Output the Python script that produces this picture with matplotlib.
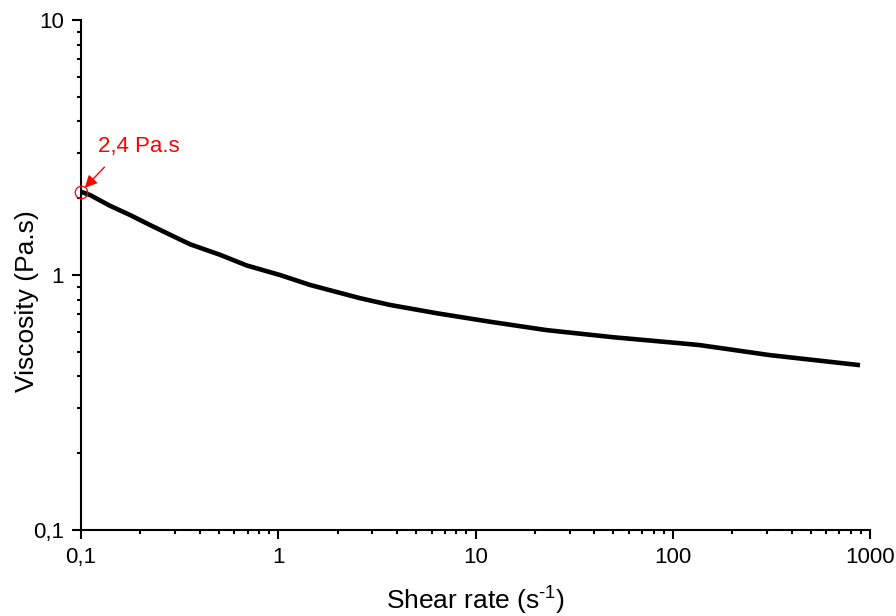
import numpy as np
import matplotlib
matplotlib.use("Agg")
import matplotlib.pyplot as plt
from matplotlib.ticker import FixedLocator, FuncFormatter, LogLocator, NullFormatter

plt.rcParams["font.family"] = ["Liberation Sans", "DejaVu Sans"]
plt.rcParams["axes.unicode_minus"] = False

# Flow curve (shear rate in 1/s, viscosity in Pa.s)
shear_rate = [0.1, 0.111, 0.140, 0.177, 0.224, 0.272, 0.357, 0.507, 0.692, 1.02,
              1.45, 2.60, 3.69, 6.36, 11.8, 22.9, 50.0, 109, 137, 311, 890]
viscosity = [2.12, 2.06, 1.87, 1.72, 1.57, 1.46, 1.32, 1.20, 1.09, 1.00,
             0.914, 0.811, 0.763, 0.708, 0.656, 0.608, 0.570, 0.540, 0.531, 0.485, 0.443]

x_ticks = [0.1, 1, 10, 100, 1000]
y_ticks = [0.1, 1, 10]
note_text = "2,4 Pa.s"


def comma_fmt(v, pos):
    s = f"{v:g}"
    return s.replace(".", ",")


fig = plt.figure(figsize=(8.96, 6.16), dpi=100)
ax = fig.add_axes([81 / 896, 1 - 530 / 616, 789 / 896, 510 / 616])

ax.plot(shear_rate, viscosity, color="black", lw=3.3, solid_capstyle="butt", zorder=3)

# highlighted first point
ax.plot(shear_rate[0], viscosity[0], marker="o", ms=9, mfc="none", mec="red", mew=0.9,
        zorder=4, clip_on=False)
ax.annotate("", xy=(shear_rate[0], viscosity[0]), xytext=(0.1315, 2.65),
            arrowprops=dict(arrowstyle="-|>", color="red", lw=1.0, mutation_scale=18,
                            shrinkA=0, shrinkB=4))
ax.text(0.1225, 2.9, note_text, color="red", fontsize=16, ha="left", va="bottom")

ax.set_xscale("log")
ax.set_yscale("log")
ax.set_xlim(0.1, 1000)
ax.set_ylim(0.1, 10)

ax.xaxis.set_major_locator(FixedLocator(x_ticks))
ax.yaxis.set_major_locator(FixedLocator(y_ticks))
ax.xaxis.set_minor_locator(LogLocator(base=10, subs=np.arange(2, 10), numticks=20))
ax.yaxis.set_minor_locator(LogLocator(base=10, subs=np.arange(2, 10), numticks=20))
ax.xaxis.set_major_formatter(FuncFormatter(comma_fmt))
ax.yaxis.set_major_formatter(FuncFormatter(comma_fmt))
ax.xaxis.set_minor_formatter(NullFormatter())
ax.yaxis.set_minor_formatter(NullFormatter())

for side in ["top", "right"]:
    ax.spines[side].set_visible(False)
for side in ["left", "bottom"]:
    ax.spines[side].set_linewidth(1.5)

ax.tick_params(which="major", direction="out", length=6.5, width=1.5)
ax.tick_params(which="minor", direction="out", length=3, width=1.5)
ax.tick_params(axis="both", which="major", labelsize=16, pad=6)

ax.set_xlabel("Shear rate (s$^{\\mathregular{\u20101}}$)", fontsize=19)
ax.set_ylabel("Viscosity (Pa.s)", fontsize=19)
ax.xaxis.set_label_coords(0.5, -0.137)
ax.xaxis.label.set_verticalalignment("center")
ax.yaxis.set_label_coords(-0.068, 0.449)
ax.yaxis.label.set_verticalalignment("center")

fig.savefig("out.png", dpi=100)
